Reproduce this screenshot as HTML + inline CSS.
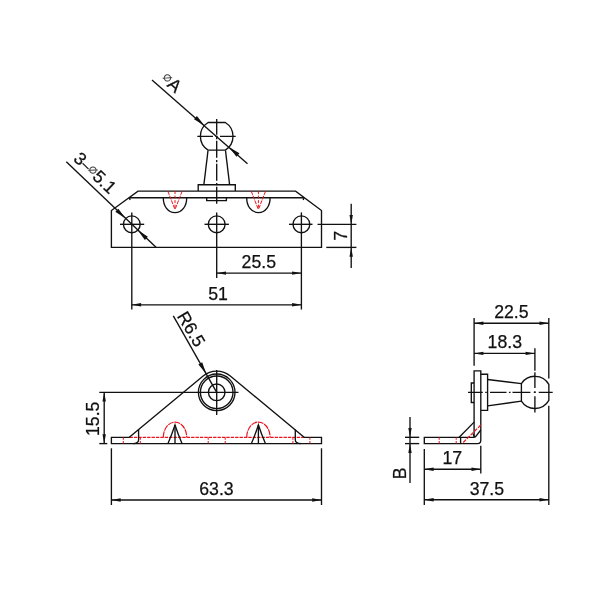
<!DOCTYPE html>
<html><head><meta charset="utf-8"><title>Bracket drawing</title>
<style>
html,body{margin:0;padding:0;background:#fff;}
body{width:600px;height:600px;overflow:hidden;}
svg{display:block;will-change:transform;}
.k{fill:none;stroke:#111;stroke-width:1.35;stroke-linecap:butt;stroke-linejoin:miter;}
.r{fill:none;stroke:#e8151c;stroke-width:1;}
.r2{fill:none;stroke:#e8151c;stroke-width:1.2;}
.a{fill:#111;stroke:none;}
.t{font-family:"Liberation Sans",sans-serif;fill:#111;stroke:#111;stroke-width:0.25;}
.d{font-family:"DejaVu Sans","Liberation Sans",sans-serif;fill:#444;stroke:none;}
</style></head><body>
<svg width="600" height="600" viewBox="0 0 600 600">
<rect x="0" y="0" width="600" height="600" fill="#fff"/>
<path class="k" d="M111.4,247.4 L111.4,210.5 L138,191.1 L295.6,191.1 L321.5,210.5 L321.5,247.4 Z"/>
<line class="k" x1="129.30" y1="197.70" x2="304.00" y2="197.70"/>
<line class="k" x1="129.30" y1="197.70" x2="130.10" y2="199.90"/>
<line class="k" x1="304.00" y1="197.70" x2="303.20" y2="199.90"/>
<circle class="k" cx="131.80" cy="224.30" r="8.40"/>
<circle class="k" cx="216.70" cy="224.30" r="8.40"/>
<circle class="k" cx="301.40" cy="224.30" r="8.40"/>
<line class="k" x1="120.00" y1="224.30" x2="144.20" y2="224.30"/>
<line class="k" x1="204.50" y1="224.30" x2="228.90" y2="224.30"/>
<line class="k" x1="289.00" y1="224.30" x2="312.50" y2="224.30"/>
<line class="k" x1="131.80" y1="212.40" x2="131.80" y2="309.50"/>
<line class="k" x1="216.70" y1="212.40" x2="216.70" y2="278.00"/>
<line class="k" x1="301.40" y1="212.40" x2="301.40" y2="309.50"/>
<path class="k" d="M163.3,197.7 C163.3,205.7 167.5,212.6 175.0,212.6 C182.5,212.6 186.7,205.7 186.7,197.7"/>
<line class="r" x1="167.80" y1="191.10" x2="175.00" y2="209.60" stroke-dasharray="4 1"/>
<line class="r" x1="182.20" y1="191.10" x2="175.00" y2="209.60" stroke-dasharray="4 1"/>
<line class="r" x1="175.00" y1="191.10" x2="175.00" y2="209.00" stroke-dasharray="3 1.5"/>
<path class="k" d="M246.7,197.7 C246.7,205.7 250.89999999999998,212.6 258.4,212.6 C265.9,212.6 270.09999999999997,205.7 270.09999999999997,197.7"/>
<line class="r" x1="251.20" y1="191.10" x2="258.40" y2="209.60" stroke-dasharray="4 1"/>
<line class="r" x1="265.60" y1="191.10" x2="258.40" y2="209.60" stroke-dasharray="4 1"/>
<line class="r" x1="258.40" y1="191.10" x2="258.40" y2="209.00" stroke-dasharray="3 1.5"/>
<path class="k" d="M198.2,191.1 L198.2,184.7 L235.3,184.7 L235.3,191.1"/>
<path class="k" d="M206.7,197.7 L206.7,200.6 L226.4,200.6 L226.4,197.7"/>
<line class="k" x1="203.90" y1="184.70" x2="208.00" y2="150.60"/>
<line class="k" x1="229.60" y1="184.70" x2="225.50" y2="150.60"/>
<path class="k" d="M208.1,122.45333975285016 A16.3,16.3 0 0 0 208.1,150.14666024714987 L225.29999999999998,150.14666024714987 A16.3,16.3 0 0 0 225.29999999999998,122.45333975285016 Z"/>
<line class="k" x1="197.30" y1="136.30" x2="236.30" y2="136.30" stroke-dasharray="15.7 2.4 2.2 2.4"/>
<line class="k" x1="216.70" y1="119.00" x2="216.70" y2="203.80" stroke-dasharray="17 2.4 2.2 1.4" stroke-dashoffset="1.3"/>
<line class="k" x1="152.00" y1="80.00" x2="247.50" y2="163.80"/>
<polygon class="a" points="204.45,125.54 193.99,119.27 196.89,115.97"/>
<polygon class="a" points="228.95,147.06 239.41,153.33 236.51,156.63"/>
<line class="k" x1="66.30" y1="161.70" x2="156.00" y2="247.20"/>
<polygon class="a" points="125.52,218.51 115.31,211.82 118.34,208.64"/>
<polygon class="a" points="137.68,230.09 147.89,236.78 144.86,239.96"/>
<line class="k" x1="317.50" y1="224.30" x2="356.40" y2="224.30"/>
<line class="k" x1="326.30" y1="247.40" x2="356.40" y2="247.40"/>
<line class="k" x1="351.20" y1="203.80" x2="351.20" y2="268.00"/>
<polygon class="a" points="351.20,224.30 349.50,215.00 352.90,215.00"/>
<polygon class="a" points="351.20,247.40 352.90,256.70 349.50,256.70"/>
<text class="t" x="346.60" y="235.90" font-size="17.7" text-anchor="middle" transform="rotate(-90 346.60 235.90)">7</text>
<line class="k" x1="216.70" y1="273.10" x2="301.40" y2="273.10"/>
<polygon class="a" points="216.70,273.10 226.00,271.40 226.00,274.80"/>
<polygon class="a" points="301.40,273.10 292.10,274.80 292.10,271.40"/>
<text class="t" x="258.80" y="267.90" font-size="17.7" text-anchor="middle">25.5</text>
<line class="k" x1="131.80" y1="304.80" x2="301.40" y2="304.80"/>
<polygon class="a" points="131.80,304.80 141.10,303.10 141.10,306.50"/>
<polygon class="a" points="301.40,304.80 292.10,306.50 292.10,303.10"/>
<text class="t" x="218.00" y="299.80" font-size="17.7" text-anchor="middle">51</text>
<path class="k" d="M130,437.3 L111.4,437.3 L111.4,443.6 L321.5,443.6 L321.5,437.3 L303.3,437.3"/>
<line class="r2" x1="129.50" y1="437.30" x2="304.00" y2="437.30" stroke-dasharray="3.4 1"/>
<path class="k" d="M129.3,437.3 L203.12,375.96 A21.25,21.25 0 0 1 230.28,375.96 L304.1,437.3"/>
<circle class="k" cx="216.70" cy="392.30" r="18.30"/>
<circle class="k" cx="216.70" cy="392.30" r="16.30"/>
<circle class="k" cx="216.70" cy="392.30" r="8.30"/>
<line class="k" x1="99.30" y1="392.30" x2="238.50" y2="392.30"/>
<line class="k" x1="216.70" y1="370.00" x2="216.70" y2="415.00"/>
<path class="k" d="M138.6,429.6 L138.6,440 Q138.6,443.3 133,443.6"/>
<path class="k" d="M295.3,429.6 L295.3,440 Q295.3,443.3 300.9,443.6"/>
<line class="r" x1="123.30" y1="437.30" x2="123.30" y2="443.60" stroke-dasharray="2.5 1.2"/>
<line class="r" x1="140.30" y1="437.30" x2="140.30" y2="443.60" stroke-dasharray="2.5 1.2"/>
<line class="r" x1="208.20" y1="437.30" x2="208.20" y2="443.60" stroke-dasharray="2.5 1.2"/>
<line class="r" x1="225.20" y1="437.30" x2="225.20" y2="443.60" stroke-dasharray="2.5 1.2"/>
<line class="r" x1="292.90" y1="437.30" x2="292.90" y2="443.60" stroke-dasharray="2.5 1.2"/>
<line class="r" x1="309.90" y1="437.30" x2="309.90" y2="443.60" stroke-dasharray="2.5 1.2"/>
<path class="r2" d="M163.3,437.3 A11.7,15.2 0 0 1 186.7,437.3" stroke-dasharray="6 0.8"/>
<path class="k" d="M168.0,443.6 Q172.0,434 175.0,425 Q178.0,434 182.0,443.6"/>
<line class="k" x1="175.00" y1="425.00" x2="175.00" y2="443.60"/>
<path class="r2" d="M246.7,437.3 A11.7,15.2 0 0 1 270.09999999999997,437.3" stroke-dasharray="6 0.8"/>
<path class="k" d="M251.39999999999998,443.6 Q255.39999999999998,434 258.4,425 Q261.4,434 265.4,443.6"/>
<line class="k" x1="258.40" y1="425.00" x2="258.40" y2="443.60"/>
<line class="k" x1="173.30" y1="315.90" x2="216.70" y2="392.30"/>
<polygon class="a" points="206.20,373.82 198.36,364.48 202.19,362.30"/>
<line class="k" x1="99.30" y1="443.60" x2="107.30" y2="443.60"/>
<line class="k" x1="104.20" y1="392.30" x2="104.20" y2="443.60"/>
<polygon class="a" points="104.20,392.30 105.90,401.60 102.50,401.60"/>
<polygon class="a" points="104.20,443.60 102.50,434.30 105.90,434.30"/>
<text class="t" x="99.20" y="418.80" font-size="17.7" text-anchor="middle" transform="rotate(-90 99.20 418.80)">15.5</text>
<line class="k" x1="111.40" y1="448.30" x2="111.40" y2="505.00"/>
<line class="k" x1="321.50" y1="448.30" x2="321.50" y2="505.00"/>
<line class="k" x1="111.40" y1="500.00" x2="321.50" y2="500.00"/>
<polygon class="a" points="111.40,500.00 120.70,498.30 120.70,501.70"/>
<polygon class="a" points="321.50,500.00 312.20,501.70 312.20,498.30"/>
<text class="t" x="216.50" y="494.90" font-size="17.7" text-anchor="middle">63.3</text>
<path class="k" d="M474.1,437.3 L424.3,437.3 L424.3,443.6 L477.6,443.6 Q480.8,443.6 480.8,440.2 L480.8,370.8 L474.1,370.8 Z"/>
<line class="k" x1="474.10" y1="422.10" x2="459.20" y2="437.30"/>
<line class="k" x1="480.80" y1="430.00" x2="475.00" y2="437.30"/>
<line class="k" x1="473.00" y1="434.00" x2="474.80" y2="437.30"/>
<line class="k" x1="460.60" y1="437.30" x2="460.60" y2="443.60"/>
<line class="r2" x1="480.80" y1="425.00" x2="462.10" y2="443.60" stroke-dasharray="4 1.2"/>
<line class="r" x1="439.20" y1="437.30" x2="439.20" y2="443.60" stroke-dasharray="2.5 1.2"/>
<line class="r" x1="456.20" y1="437.30" x2="456.20" y2="443.60" stroke-dasharray="2.5 1.2"/>
<path class="k" d="M480.8,374.2 L487.6,374.2 L487.6,410.4 L480.8,410.4"/>
<path class="k" d="M474.1,383 L471.3,383 L471.3,402.5 L474.1,402.5"/>
<path class="k" d="M521.4,383.6273151202154 A16.1,16.1 0 0 1 548.85,384.362120926513 L548.85,400.43787907348695 A16.1,16.1 0 0 1 521.4,401.1726848797845 Z"/>
<line class="k" x1="487.60" y1="379.50" x2="521.40" y2="383.63"/>
<line class="k" x1="487.60" y1="405.90" x2="521.40" y2="401.17"/>
<line class="k" x1="468.00" y1="392.40" x2="552.70" y2="392.40" stroke-dasharray="14.8 2.4 1.6 3.2 16.5 2.4 1.6 2 17.9 3.4 1.7 3.25 14.2 0"/>
<line class="k" x1="534.90" y1="348.30" x2="534.90" y2="412.50" stroke-dasharray="22.4 1.6 15.7 3.3 1.8 3.2 20 0"/>
<line class="k" x1="474.10" y1="318.00" x2="474.10" y2="365.70"/>
<line class="k" x1="548.80" y1="318.00" x2="548.80" y2="378.50"/>
<line class="k" x1="548.80" y1="405.80" x2="548.80" y2="505.00"/>
<line class="k" x1="474.10" y1="323.20" x2="548.80" y2="323.20"/>
<polygon class="a" points="474.10,323.20 483.40,321.50 483.40,324.90"/>
<polygon class="a" points="548.80,323.20 539.50,324.90 539.50,321.50"/>
<text class="t" x="511.40" y="317.70" font-size="17.7" text-anchor="middle">22.5</text>
<line class="k" x1="474.10" y1="353.40" x2="534.90" y2="353.40"/>
<polygon class="a" points="474.10,353.40 483.40,351.70 483.40,355.10"/>
<polygon class="a" points="534.90,353.40 525.60,355.10 525.60,351.70"/>
<text class="t" x="504.80" y="348.10" font-size="17.7" text-anchor="middle">18.3</text>
<line class="k" x1="405.00" y1="437.30" x2="419.20" y2="437.30"/>
<line class="k" x1="405.00" y1="443.60" x2="419.20" y2="443.60"/>
<line class="k" x1="410.00" y1="417.00" x2="410.00" y2="483.00"/>
<polygon class="a" points="410.00,437.30 408.30,428.00 411.70,428.00"/>
<polygon class="a" points="410.00,443.60 411.70,452.90 408.30,452.90"/>
<text class="t" x="405.60" y="473.40" font-size="17.7" text-anchor="middle" transform="rotate(-90 405.60 473.40)">B</text>
<line class="k" x1="480.80" y1="445.80" x2="480.80" y2="473.50"/>
<line class="k" x1="424.30" y1="449.00" x2="424.30" y2="505.00"/>
<line class="k" x1="424.30" y1="469.20" x2="480.80" y2="469.20"/>
<polygon class="a" points="424.30,469.20 433.60,467.50 433.60,470.90"/>
<polygon class="a" points="480.80,469.20 471.50,470.90 471.50,467.50"/>
<text class="t" x="452.30" y="463.60" font-size="17.7" text-anchor="middle">17</text>
<line class="k" x1="424.30" y1="499.70" x2="548.80" y2="499.70"/>
<polygon class="a" points="424.30,499.70 433.60,498.00 433.60,501.40"/>
<polygon class="a" points="548.80,499.70 539.50,501.40 539.50,498.00"/>
<text class="t" x="486.90" y="495.00" font-size="17.7" text-anchor="middle">37.5</text>
<text class="t" x="159.80" y="80.30" transform="rotate(41.3 159.80 80.30)" font-size="17.7"><tspan class="d" font-size="14" dy="-3.3">⌀</tspan><tspan dy="3.3">A</tspan></text>
<text class="t" x="72.60" y="159.80" transform="rotate(43.6 72.60 159.80)" font-size="17.7">3<tspan font-size="14" dy="-0.8">–</tspan><tspan class="d" font-size="14" dy="-2.2">⌀</tspan><tspan dy="3">5.1</tspan></text>
<text class="t" x="176.60" y="315.90" transform="rotate(59.600703374389 176.60 315.90)" font-size="17.7">R6.5</text>
</svg>
</body></html>
